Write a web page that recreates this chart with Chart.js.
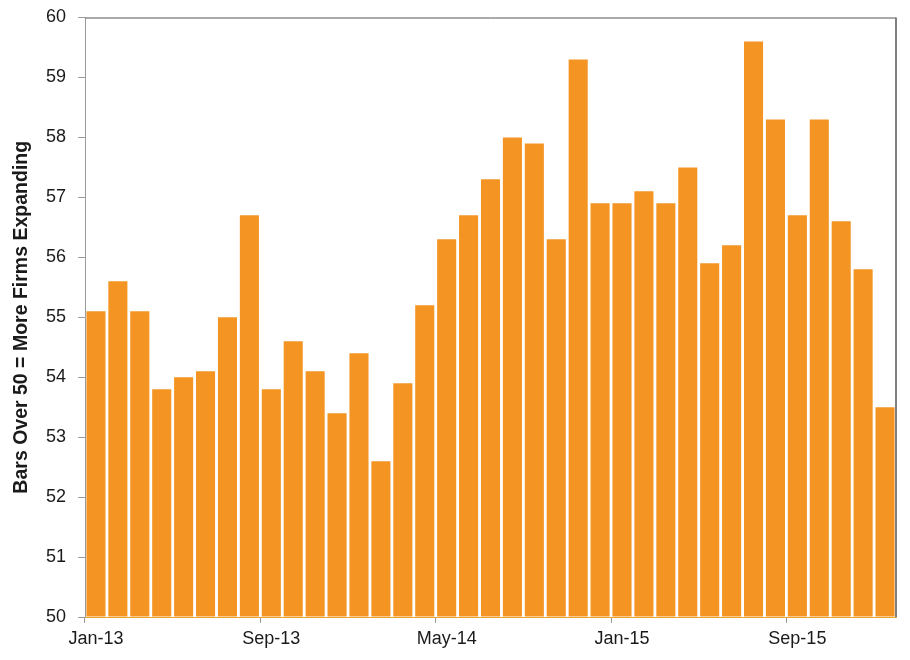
<!DOCTYPE html>
<html>
<head>
<meta charset="utf-8">
<script src="https://cdn.jsdelivr.net/npm/chart.js@4/dist/chart.umd.min.js"></script>
<style>
html,body{margin:0;padding:0;background:#fff;}
#wrap{width:910px;height:660px;position:relative;}
</style>
</head>
<body>
<div id="wrap"><canvas id="c" width="910" height="660"></canvas></div>
<script>
const categories = [
  "Jan-13","Feb-13","Mar-13","Apr-13","May-13","Jun-13","Jul-13","Aug-13","Sep-13","Oct-13","Nov-13","Dec-13",
  "Jan-14","Feb-14","Mar-14","Apr-14","May-14","Jun-14","Jul-14","Aug-14","Sep-14","Oct-14","Nov-14","Dec-14",
  "Jan-15","Feb-15","Mar-15","Apr-15","May-15","Jun-15","Jul-15","Aug-15","Sep-15","Oct-15","Nov-15","Dec-15",
  "Jan-16"
];
const values = [
  55.1,55.6,55.1,53.8,54.0,54.1,55.0,56.7,53.8,54.6,54.1,53.4,
  54.4,52.6,53.9,55.2,56.3,56.7,57.3,58.0,57.9,56.3,59.3,56.9,
  56.9,57.1,56.9,57.5,55.9,56.2,59.6,58.3,56.7,58.3,56.6,55.8,
  53.5
];
const labelEvery = 8;
const yTitle = "Bars Over 50 = More Firms Expanding";

const frame = {
  id: 'frame',
  afterDatasetsDraw(chart) {
    const a = chart.chartArea, ctx = chart.ctx;
    ctx.save();
    ctx.lineWidth = 1;
    ctx.strokeStyle = '#9a9a9a';
    ctx.beginPath();
    ctx.moveTo(a.left + 0.5, a.bottom);
    ctx.lineTo(a.left + 0.5, a.top + 0.5);
    ctx.stroke();
    ctx.strokeStyle = '#555';
    ctx.beginPath();
    ctx.moveTo(a.left, a.top + 0.5);
    ctx.lineTo(a.right, a.top + 0.5);
    ctx.stroke();
    ctx.strokeStyle = '#808080';
    ctx.lineWidth = 2;
    ctx.beginPath();
    ctx.moveTo(a.right, a.top);
    ctx.lineTo(a.right, a.bottom);
    ctx.stroke();
    ctx.restore();
  }
};

new Chart(document.getElementById('c'), {
  type: 'bar',
  data: {
    labels: categories,
    datasets: [{
      data: values,
      backgroundColor: '#F39423',
      borderWidth: 0,
      barPercentage: 0.87,
      categoryPercentage: 1.0,
      base: 50
    }]
  },
  options: {
    responsive: false,
    animation: false,
    layout: { padding: { top: 17.5, right: 14, left: 0, bottom: 0 } },
    plugins: { legend: { display: false }, tooltip: { enabled: false } },
    scales: {
      x: {
        type: 'category',
        offset: true,
        afterFit(scale) { scale.height = 43; },
        ticks: {
          autoSkip: false,
          maxRotation: 0,
          minRotation: 0,
          padding: 5,
          color: '#1a1a1a',
          font: { family: 'Liberation Sans, Arial, sans-serif', size: 18 },
          callback: (v, i) => (i % labelEvery === 0 ? categories[i] : '')
        },
        grid: {
          offset: true,
          drawOnChartArea: false,
          tickLength: 6,
          color: (ctx) => (ctx.index % labelEvery === 0 ? '#9a9a9a' : 'rgba(0,0,0,0)')
        },
        border: { display: true, color: '#E8A630', width: 1 }
      },
      y: {
        min: 50,
        max: 60,
        afterFit(scale) { scale.width = 85; scale.paddingTop = 0; scale.paddingBottom = 0; },
        ticks: {
          stepSize: 1,
          padding: 12,
          color: '#1a1a1a',
          font: { family: 'Liberation Sans, Arial, sans-serif', size: 18 }
        },
        grid: { drawOnChartArea: false, tickLength: 7, color: '#9a9a9a' },
        border: { display: false },
        title: {
          display: true,
          text: yTitle,
          color: '#1a1a1a',
          padding: { top: 10, bottom: 6 },
          font: { family: 'Liberation Sans, Arial, sans-serif', size: 19.5, weight: 'bold' }
        }
      }
    }
  },
  plugins: [frame]
});
</script>
</body>
</html>
